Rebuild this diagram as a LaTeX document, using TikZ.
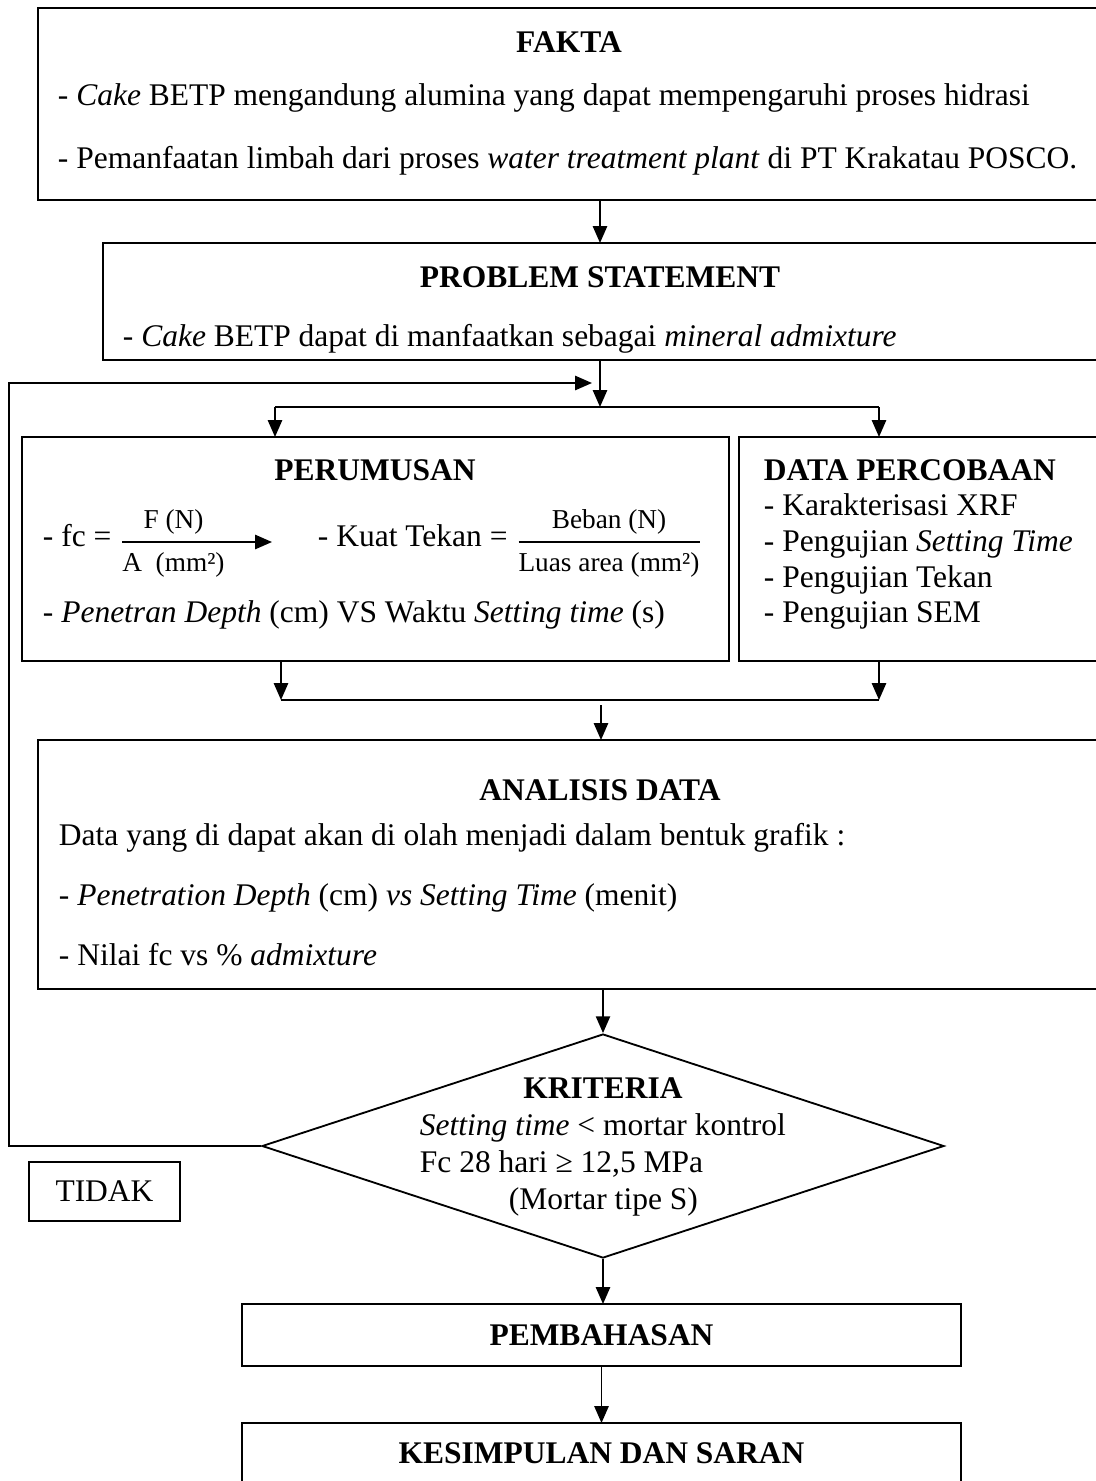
\documentclass[tikz,border=0pt]{standalone}
\usepackage{amsmath}
\usepackage{fontspec}
\setmainfont{Liberation Serif}
\usepackage{tikz}
\usetikzlibrary{arrows.meta,positioning,fit,shapes.geometric}
\newcommand{\ux}{0.381pt}
\newcommand{\fracfont}{\fontsize{10.4}{11}\selectfont}
\tikzset{
	flow chart/.style={
		x=\ux, y=-\ux,
		line width=0.7pt,
		font=\fontsize{12}{14}\selectfont,
		ar/.style={-{Triangle[length=6.4pt,width=5.4pt]}},
		box/.style={draw, rectangle, inner sep=0pt, outer sep=0pt},
		title/.style={font=\fontsize{12}{14}\selectfont\bfseries, anchor=base, inner sep=0pt},
		txt/.style={anchor=base west, inner sep=0pt}
		}
}

\begin{document}
\begin{tikzpicture}[flow chart]
	\useasboundingbox (0,0) rectangle (1096,1481);
	\clip (0,0) rectangle (1096,1481);
	% boxes
	\node[box, fit={(38,8) (1110,200)}] (fakta) {};
	\node[title] at (569,52) {FAKTA};
	\node[txt] at (57,105) {- \textit{Cake} BETP mengandung alumina yang dapat mempengaruhi proses hidrasi};
	\node[txt] at (57,168) {- Pemanfaatan limbah dari proses \textit{water treatment plant} di PT Krakatau POSCO.};
	\node[box, fit={(103,243) (1110,360)}] (problem) {};
	\node[title] at (600,287) {PROBLEM STATEMENT};
	\node[txt] at (122,346) {- \textit{Cake} BETP dapat di manfaatkan sebagai \textit{mineral admixture}};
	\node[box, fit={(22,437) (729,661)}] (perumusan) {};
	\node[title] at (375,480) {PERUMUSAN};
	\node[txt] (fc) at (42,546) {- fc = \raisebox{-1.5pt}{$\genfrac{}{}{0.7pt}{0}{\text{\fracfont F (N)}}{\text{\fracfont A\ \ (mm²)}}$}};
	\node[txt] (kuat) at (317,546) {- Kuat Tekan = \raisebox{-1.5pt}{$\genfrac{}{}{0.7pt}{0}{\text{\fracfont Beban (N)}}{\text{\fracfont Luas area (mm²)}}$}};
	\node[txt] at (42,622) {- \textit{Penetran Depth} (cm) VS Waktu \textit{Setting time} (s)};
	\node[box, fit={(739,437) (1110,661)}] (data) {};
	\node[txt, font=\fontsize{12}{14}\selectfont\bfseries] at (763,480) {DATA PERCOBAAN};
	\node[txt] at (763,515) {- Karakterisasi XRF};
	\node[txt] at (763,551) {- Pengujian \textit{Setting Time}};
	\node[txt] at (763,587) {- Pengujian Tekan};
	\node[txt] at (763,622) {- Pengujian SEM};
	\node[box, fit={(38,740) (1110,989)}] (analisis) {};
	\node[title] at (600,800) {ANALISIS DATA};
	\node[txt] at (58,845) {Data yang di dapat akan di olah menjadi dalam bentuk grafik :};
	\node[txt] at (58,905) {- \textit{Penetration Depth} (cm) \textit{vs Setting Time} (menit)};
	\node[txt] at (58,965) {- Nilai fc vs \% \textit{admixture}};
	\node[draw, diamond, minimum width=682*\ux, minimum height=224*\ux, inner sep=0pt] (kriteria) at (603,1146) {};
	\node[title] at (603,1098) {KRITERIA};
	\node[txt] at (419,1135) {\textit{Setting time} < mortar kontrol};
	\node[txt] at (419,1172) {Fc 28 hari ≥ 12,5 MPa};
	\node[txt] at (508,1209) {(Mortar tipe S)};
	\node[box, minimum width=151*\ux, minimum height=59*\ux] (tidak) at (104.5,1191.5) {TIDAK};
	\node[box, minimum width=719*\ux, minimum height=62*\ux, font=\fontsize{12}{14}\selectfont\bfseries] (pembahasan) at (601.5,1335) {PEMBAHASAN};
	\node[box, fit={(242,1423) (961,1520)}] (kesimpulan) {};
	\node[title] at (601.5,1463) {KESIMPULAN DAN SARAN};
	% connectors
	\coordinate (split) at (600,407);
	\coordinate (bl) at (275,407);
	\coordinate (br) at (879,407);
	\coordinate (loopin) at (592,383);
	\coordinate (ml) at (281,700);
	\coordinate (mr) at (879,700);
	\coordinate (mj) at (601,705);
	\coordinate (fcend) at (272,542);
	\draw[ar] (fakta.south -| split) -- (problem.north -| split);
	\draw[ar] (problem.south -| split) -- (split);
	\draw (bl) -- (br);
	\draw[ar] (bl) -- (bl |- perumusan.north);
	\draw[ar] (br) -- (br |- data.north);
	\draw[ar] ([xshift=-1.5pt]fc.east |- fcend) -- (fcend);
	\draw[ar] (ml |- perumusan.south) -- (ml);
	\draw[ar] (mr |- data.south) -- (mr);
	\draw (ml) -- (mr);
	\draw[ar] (mj) -- (mj |- analisis.north);
	\draw[ar] (analisis.south -| kriteria.north) -- (kriteria.north);
	\draw[ar] (kriteria.west) -- ++(-252,0) |- (loopin);
	\draw[ar] (kriteria.south) -- (kriteria.south |- pembahasan.north);
	\draw[ar] (pembahasan.south) -- (kesimpulan.north);
\end{tikzpicture}
\end{document}
